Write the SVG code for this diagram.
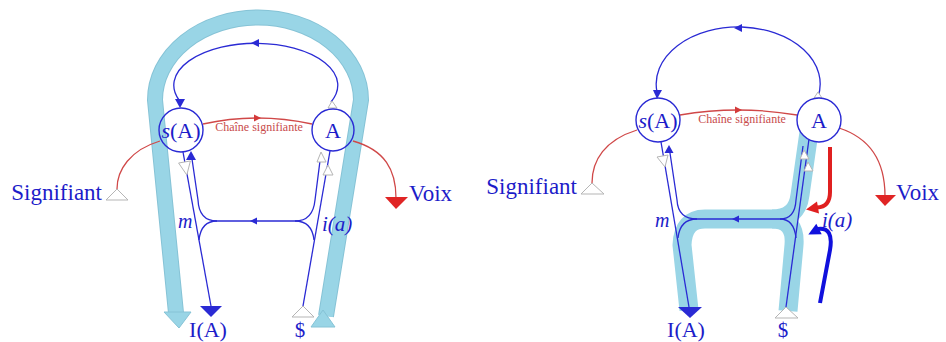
<svg xmlns="http://www.w3.org/2000/svg" width="946" height="342" viewBox="0 0 946 342">
<style>
.band{fill:none;stroke:#99d5e6;stroke-linejoin:round}
.bandedge{fill:none;stroke:#86c3d6;stroke-linejoin:round}
.bl{fill:none;stroke:#2a2ad4;stroke-width:1.3}
.rl{fill:none;stroke:#d04848;stroke-width:1.3}
.bf{fill:#2a2ad4;stroke:none}
.rf{fill:#d43a3a;stroke:none}
.hol{fill:#fff;stroke:#b5b5b5;stroke-width:1}
.circ{fill:none;stroke:#2a2ad4;stroke-width:1.4}
.t{font-family:"Liberation Serif","Times New Roman",serif;fill:#1c1cc9}
.tr{font-family:"Liberation Serif","Times New Roman",serif;fill:#c84b4b;font-size:12px}
.it{font-style:italic}
</style>

<!-- LEFT DIAGRAM -->
<g id="left-band">
<path class="bandedge" stroke-width="16" d="M 176 313 L 155 100 A 103 82.5 0 0 1 361 100 L 326 316"/>
<path class="band" stroke-width="14" d="M 176 313 L 155 100 A 103 82.5 0 0 1 361 100 L 326 316"/>
<polygon points="164,312 191,312 179,328" fill="#99d5e6" stroke="#86c3d6" stroke-width="1"/>
<polygon points="311,327 335,327 323,310" fill="#99d5e6" stroke="#86c3d6" stroke-width="1"/>
</g>

<g id="left-connectors">
<path class="bl" d="M 331 102 A 82 42 0 1 0 179 100"/>
<polygon class="bf" points="251,43 259,39 259,47"/>
<polygon class="bf" points="175,99 185,99 180,108"/>
<polygon class="hol" points="332,101 328,108 337,108"/>
<path class="rl" d="M 203 124 Q 257 112 312 124"/>
<polygon class="rf" points="261,118 254,114.5 254,121.5"/>
<path class="rl" d="M 160 141 C 130 150 117 170 117 189"/>
<path class="rl" d="M 353 141 C 385 150 396 170 396 198"/>
<path class="bl" d="M 183 152 L 211 306"/>
<path class="bl" d="M 217 221 Q 199 221 198 200 L 192 159"/>
<path class="bl" d="M 217 221 Q 201 221 199 240"/>
<path class="bl" d="M 217 221 L 295 221"/>
<polygon class="bf" points="250,221 257,217.5 257,224.5"/>
<path class="bl" d="M 295 221 Q 313 221 315 200 L 321 153"/>
<path class="bl" d="M 295 221 Q 312 221 314 240"/>
<path class="bl" d="M 303 306 L 330 151"/>
<polygon class="bf" points="191,151 186,160 196,160"/>
<polygon class="hol" points="178.6,163 190.4,161 186.8,175"/>
<polygon class="hol" points="321,152 317,162 326,162"/>
<polygon class="hol" points="328,165 323,175 333,175"/>
<polygon class="bf" points="200,306 222,306 211,317"/>
<polygon class="hol" points="303,306 292,317 314,317"/>
</g>

<g id="left-sA"><circle class="circ" cx="181" cy="130" r="22"/><text class="t" x="181" y="138" font-size="22" text-anchor="middle"><tspan class="it">s</tspan>(A)</text></g>
<g id="left-A"><circle class="circ" cx="333" cy="130" r="21"/><text class="t" x="333" y="138" font-size="22" text-anchor="middle">A</text></g>
<g id="left-chain"><text class="tr" x="259" y="131" text-anchor="middle">Chaîne signifiante</text></g>
<g id="left-signifiant"><polygon class="hol" points="117,189 106,200 128,200"/><text class="t" x="102" y="200" font-size="23" text-anchor="end">Signifiant</text></g>
<g id="left-voix"><polygon fill="#e02525" points="385,197 408,197 396,209"/><text class="t" x="409" y="201" font-size="23">Voix</text></g>
<g id="left-m"><text class="t it" x="178" y="228" font-size="20">m</text></g>
<g id="left-ia"><text class="t it" x="322" y="231" font-size="21">i(a)</text></g>
<g id="left-IA"><text class="t" x="208" y="337" font-size="22" text-anchor="middle">I(A)</text></g>
<g id="left-S"><text class="t" x="300" y="337" font-size="21" text-anchor="middle">$</text></g>

<!-- RIGHT DIAGRAM -->
<g id="right-band">
<path class="band" stroke-width="19" d="M 809 132 L 800 195 Q 797 219 772 219 L 705 219 Q 683 219 682 245 L 689 310"/>
<path class="band" stroke-width="19" d="M 788 311 L 794 245 Q 796 219 772 219"/>
</g>

<g id="right-connectors">
<path class="bl" d="M 818 97 A 82 57 0 1 0 657 92"/>
<polygon class="bf" points="734,28 742,24 742,32"/>
<polygon class="bf" points="653,90 662,90 657,99"/>
<polygon class="hol" points="818,92 814,98 822,98"/>
<path class="rl" d="M 680 115 Q 738 105 797 115"/>
<polygon class="rf" points="742,110 735,106.5 735,113.5"/>
<path class="rl" d="M 637 130 C 605 140 592 160 592 183"/>
<path class="rl" d="M 839 128 C 870 138 885 160 885 196"/>
<path class="bl" d="M 661 142 L 689 307"/>
<path class="bl" d="M 697 219 Q 678 219 677 200 L 670 153"/>
<path class="bl" d="M 697 219 Q 680 219 678 238"/>
<path class="bl" d="M 697 219 L 780 219"/>
<polygon class="bf" points="732,219 739,215.5 739,222.5"/>
<path class="bl" d="M 780 219 Q 795 219 796 200 L 803 146"/>
<path class="bl" d="M 780 219 Q 794 219 796 238"/>
<path class="bl" d="M 786 307 L 809 139"/>
<polygon class="bf" points="669,145 664.5,153 673.5,153"/>
<polygon class="hol" points="657,157 668,155 665,167"/>
<polygon class="hol" points="804,150 800,159 809,159"/>
<polygon class="hol" points="808,162 804,171 813,171"/>
<polygon class="bf" points="678,307 702,307 690,318"/>
<polygon class="hol" points="786,307 775,318 798,318"/>
<path fill="none" stroke="#e02020" stroke-width="4" d="M 830 147 L 830 192 Q 830 207 817 207.5"/>
<polygon fill="#e02020" points="806,209.5 817,201.5 819,213.5"/>
<path fill="none" stroke="#1010dd" stroke-width="4" d="M 820 303 L 830 250 Q 834 227 818 229"/>
<polygon fill="#1010dd" points="808.3,234.4 816.3,223.7 821.7,234.3"/>
</g>

<g id="right-sA"><circle class="circ" cx="658" cy="120" r="22" fill="#fff"/><text class="t" x="658" y="128" font-size="22" text-anchor="middle"><tspan class="it">s</tspan>(A)</text></g>
<g id="right-A"><circle class="circ" cx="819" cy="120" r="22" style="fill:#fff"/><text class="t" x="819" y="128" font-size="22" text-anchor="middle">A</text></g>
<g id="right-chain"><text class="tr" x="742" y="123" text-anchor="middle">Chaîne signifiante</text></g>
<g id="right-signifiant"><polygon class="hol" points="592,183 581,194 604,194"/><text class="t" x="577" y="194" font-size="23" text-anchor="end">Signifiant</text></g>
<g id="right-voix"><polygon fill="#e02525" points="875,195 896,195 885,206"/><text class="t" x="896" y="200" font-size="23">Voix</text></g>
<g id="right-m"><text class="t it" x="655" y="227" font-size="20">m</text></g>
<g id="right-ia"><text class="t it" x="822" y="227" font-size="21">i(a)</text></g>
<g id="right-IA"><text class="t" x="686" y="337" font-size="22" text-anchor="middle">I(A)</text></g>
<g id="right-S"><text class="t" x="783" y="337" font-size="21" text-anchor="middle">$</text></g>
</svg>
